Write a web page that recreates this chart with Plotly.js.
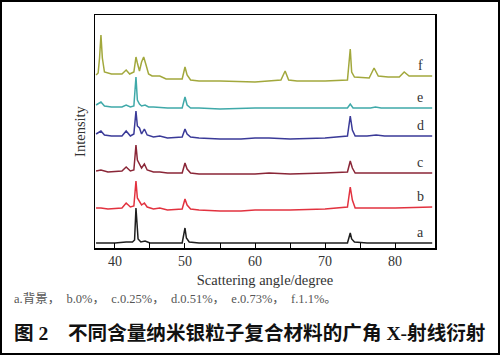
<!DOCTYPE html>
<html>
<head>
<meta charset="utf-8">
<script src="https://cdn.plot.ly/plotly-3.0.1.min.js"></script>
<style>
html,body{margin:0;padding:0;background:#fff;}
#wrap{position:relative;width:500px;height:355px;}
#chart{width:500px;height:355px;}
#frame{position:absolute;left:0;top:0;width:500px;height:355px;box-sizing:border-box;border:2px solid #000;pointer-events:none;}
</style>
</head>
<body>
<div id="wrap"><div id="chart"></div><div id="frame"></div></div>
<script>
// ---- data (intensities as displayed, stacked) ----
const seriesNames = ["a", "b", "c", "d", "e", "f"];
const xA = [37.3, 40, 41.6, 42.5, 42.8, 43.0, 43.3, 43.7, 44.3, 45, 47, 49.6, 50.0, 50.2, 50.6, 52, 55, 60, 65, 70, 73.2, 73.6, 73.8, 74.2, 76, 80, 85.3];
const yA = [5, 5, 6, 6, 8, 40, 9, 6, 7, 5, 5, 5, 20, 10, 6, 5, 5, 5, 5, 5, 5, 15, 9, 6, 5, 5, 5];

const xB = [37.3, 38.0, 39, 41.0, 41.6, 42.2, 42.7, 43.0, 43.2, 43.5, 43.8, 44.2, 44.6, 45.5, 46.4, 47.5, 49.6, 50.0, 50.3, 50.8, 52, 55, 58, 60, 62, 65, 70, 73.2, 73.6, 73.9, 74.3, 76, 80, 85.3];
const yB = [40, 40, 39, 40, 45, 41, 42, 67, 50, 47, 43, 45, 41, 39, 40, 38, 39, 49, 43, 39, 38, 37, 37, 38, 38, 38, 39, 41, 61, 48, 40, 40, 40, 41];

const xC = [37.3, 38.0, 39, 41.0, 41.6, 42.2, 42.7, 43.0, 43.2, 43.5, 43.8, 44.2, 44.6, 45.5, 46.4, 47.5, 49.6, 50.0, 50.3, 50.8, 52, 55, 60, 62, 65, 70, 73.2, 73.6, 73.9, 74.3, 76, 80, 85.3];
const yC = [77, 78, 76, 77, 81, 77, 78, 103, 88, 84, 80, 84, 78, 76, 76, 75, 75, 85, 79, 75, 74, 74, 74, 75, 74, 75, 76, 87, 80, 75, 75, 75, 75];

const xD = [37.3, 38.0, 38.5, 39.5, 41.0, 41.6, 42.2, 42.7, 43.0, 43.2, 43.5, 43.8, 44.2, 44.6, 45.5, 46.4, 47.5, 49.6, 50.0, 50.3, 50.8, 52, 55, 58, 60, 62, 65, 70, 73.2, 73.6, 73.9, 74.3, 76, 77.3, 78.5, 80, 85.3];
const yD = [114, 117, 113, 112, 112, 117, 112, 114, 137, 122, 120, 114, 119, 113, 111, 112, 110, 111, 119, 114, 111, 110, 109, 109, 110, 110, 109, 110, 112, 132, 118, 112, 112, 113, 112, 112, 112];

const xE = [37.3, 38.0, 38.5, 39.5, 41.0, 41.6, 42.2, 42.7, 43.0, 43.2, 43.5, 43.8, 44.3, 44.8, 45.5, 47.5, 49.6, 50.0, 50.3, 50.8, 52, 55, 60, 65, 70, 73.2, 73.6, 74.0, 76.5, 77.2, 78, 80, 85.3];
const yE = [143, 146, 142, 141, 141, 143, 141, 142, 171, 148, 144, 142, 143, 141, 141, 140, 140, 151, 143, 140, 140, 139, 140, 140, 140, 140, 144, 140, 140, 141, 140, 140, 140];

const xF = [37.3, 37.6, 37.8, 38.0, 38.2, 38.5, 39.5, 41.0, 41.6, 42.1, 42.7, 43.0, 43.2, 43.5, 43.8, 44.1, 44.4, 44.8, 45.3, 46.4, 47.3, 49.6, 50.0, 50.3, 50.8, 52, 55, 60, 63.7, 64.3, 64.8, 66, 70, 73.2, 73.6, 73.8, 74.2, 76.3, 77.0, 77.6, 79, 80.6, 81.3, 82, 85.3];
const yF = [173, 175, 190, 213, 190, 176, 174, 174, 178, 174, 176, 191, 185, 177, 186, 191, 184, 174, 172, 172, 169, 169, 181, 173, 168, 167, 167, 166, 168, 177, 168, 167, 167, 168, 199, 176, 171, 170, 180, 172, 171, 171, 176, 172, 172];

const xTickVals = [40, 45, 50, 55, 60, 65, 70, 75, 80];
const xTickText = ["40", "", "50", "", "60", "", "70", "", "80"];

const xTitle = "Scattering angle/degree";
const yTitle = "Intensity";
const captionText = "a.背景，  b.0%，  c.0.25%，  d.0.51%，  e.0.73%，  f.1.1%。";
const figNo = "图 2";
const figTitle = "不同含量纳米银粒子复合材料的广角 X-射线衍射";

// ---- styling ----
const colors = ["#1e1e1e", "#e2323f", "#8a2637", "#3a3a98", "#3fa9a9", "#a2a83c"];
const xs = [xA, xB, xC, xD, xE, xF];
const ys = [yA, yB, yC, yD, yE, yF];

const L = 95, R = 435, T = 15, B = 248, W = 500, H = 355;
const px = x => (x - L) / (R - L);
const py = y => (B - y) / (B - T);
const serif = "Liberation Serif, Times New Roman, serif";

const traces = seriesNames.map((n, i) => ({
  x: xs[i], y: ys[i], type: "scatter", mode: "lines", name: n,
  line: {color: colors[i], width: 1.5, shape: "linear"},
  hoverinfo: "skip"
}));

const annotations = seriesNames.map((n, i) => ({
  x: 83.6, y: ys[i][ys[i].length - 1] + 11, xref: "x", yref: "y",
  text: n, showarrow: false, xanchor: "center", yanchor: "middle",
  font: {family: serif, size: 14, color: "#333"}
}));

annotations.push({
  x: px(12), y: py(299), xref: "paper", yref: "paper", text: captionText,
  showarrow: false, xanchor: "left", yanchor: "middle",
  font: {family: serif + ", Noto Sans CJK SC", size: 12.5, color: "#555"}
});
annotations.push({
  x: px(12), y: py(333), xref: "paper", yref: "paper", text: "<b>" + figNo + "</b>",
  showarrow: false, xanchor: "left", yanchor: "middle",
  font: {family: serif + ", Noto Sans CJK SC", size: 19.6, color: "#111"}
});
annotations.push({
  x: px(66), y: py(333), xref: "paper", yref: "paper", text: "<b>" + figTitle + "</b>",
  showarrow: false, xanchor: "left", yanchor: "middle",
  font: {family: serif + ", Noto Sans CJK SC", size: 19.6, color: "#111"}
});

const layout = {
  width: W, height: H,
  margin: {l: L, r: W - R, t: T, b: H - B, pad: 0},
  paper_bgcolor: "#ffffff", plot_bgcolor: "#ffffff",
  showlegend: false,
  xaxis: {
    range: [37.15, 85.7], showgrid: false, zeroline: false,
    showline: true, mirror: true, linecolor: "#000", linewidth: 1.5,
    ticks: "inside", ticklen: 5, tickwidth: 1, tickcolor: "#000",
    tickmode: "array", tickvals: xTickVals, ticktext: xTickText,
    tickfont: {family: serif, size: 14, color: "#333"},
    title: {text: xTitle, font: {family: serif, size: 14.5, color: "#333"}, standoff: 6}
  },
  yaxis: {
    range: [0, 233], showgrid: false, zeroline: false,
    showline: true, mirror: true, linecolor: "#000", linewidth: 1.5,
    showticklabels: false, ticks: "",
    title: {text: yTitle, font: {family: serif, size: 14.5, color: "#333"}, standoff: 4}
  },
  annotations: annotations
};

Plotly.newPlot("chart", traces, layout, {staticPlot: true, displayModeBar: false});
</script>
</body>
</html>
